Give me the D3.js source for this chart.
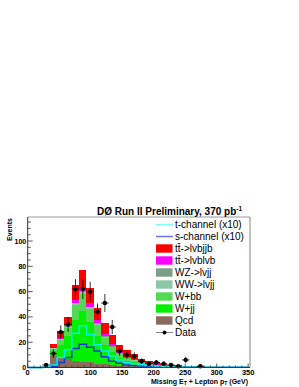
<!DOCTYPE html>
<html>
<head>
<meta charset="utf-8">
<script src="https://cdn.jsdelivr.net/npm/d3@7"></script>
<style>
  body { margin: 0; background: #fff; }
  svg { display: block; }
  text { font-family: "Liberation Sans", Arial, sans-serif; }
</style>
</head>
<body>
<div id="chart"></div>
<script>
// histogram: 30 bins from 0 to 350 GeV
let nBins = 30;
let xMax = 350;

// stacked backgrounds (events per bin)
let qcd  = [0,0,0.5,9,8,7,5.5,4.5,4,3,2.5,2,1.5,1.2,1,0.7,0.5,0.4,0.3,0.3,0.2,0.2,0.1,0.1,0.1,0,0,0,0,0];
let wjj  = [0,0.1,0.5,4,10,18,32,40,32,22,15,10,6,4,3,2,1.2,1,0.7,0.5,0.4,0.3,0.3,0.2,0.2,0.1,0.1,0.1,0.1,0.1];
let wbb  = [0,0,0.2,2,4,6.5,12,14,10.5,8.5,6,4,3,2,1.5,1,0.7,0.5,0.4,0.3,0.2,0.2,0.1,0.1,0.1,0.1,0.1,0.1,0,0];
let ww   = [0,0,0,0.3,0.6,0.8,1.2,1.3,1.2,1,0.8,0.6,0.4,0.3,0.3,0.2,0.2,0.1,0.1,0.1,0,0,0.1,0.1,0.05,0.05,0,0,0,0];
let wz   = [0,0,0,0.1,0.2,0.3,0.4,0.4,0.4,0.3,0.3,0.2,0.2,0.1,0.1,0.1,0.1,0,0,0,0,0,0,0,0,0,0,0,0,0];
let ttll = [0,0,0,0.2,0.4,1,2.5,3,3,2.5,1.8,1.5,1.2,1,0.8,0.6,0.5,0.4,0.3,0.2,0.2,0.1,0.1,0.1,0.05,0.05,0.05,0.05,0.05,0.05];
let ttlj = [0,0,0.3,3.0,5.8,6.4,11.4,13.8,11.9,9.7,8.6,7.7,5.7,5.4,4.3,2.4,1.8,1.6,1.2,0.8,0.6,0.4,0.4,0.3,0.15,0.15,0.1,0.1,0.1,0.1];

// signals (x10), drawn as outlines
let tchan = [0,0,0.3,2,8,14,27,33,26,18,13,9,6,4,3,2.2,1.6,1.2,0.9,0.7,0.5,0.4,0.3,0.3,0.2,0.2,0.1,0.1,0.1,0.1];
let schan = [0,0,0.2,1,4,8,15,18.3,16,13,8.5,5,3.3,2,1.5,1.1,0.8,0.6,0.5,0.4,0.3,0.3,0.2,0.2,0.1,0.1,0.1,0.1,0.1,0.1];

// data
let dataCounts = [0,0,2,11,28,34,62,62,60,44,51,32,13,10,9,5,3,4,3,2,1,6,0,1,0,0,0,0,0,0];

let xTicks = [0, 50, 100, 150, 200, 250, 300, 350];
let yTicks = [0, 20, 40, 60, 80, 100];

let stackKeys = ["qcd", "wjj", "wbb", "ww", "wz", "ttll", "ttlj"];
let colors = {
    qcd: "#8b6b5c", wjj: "#00f000", wbb: "#55d955", ww: "#8cc8a6",
    wz: "#7e9f87", ttll: "#ff00ff", ttlj: "#ff0000"
};

let svgWidth = 299;
let svgHeight = 387;

let svg = d3.select("#chart")
    .append("svg")
    .attr("width", svgWidth)
    .attr("height", svgHeight);

let x = d3.scaleLinear().domain([0, 352.9]).range([27.7, 250]);
let y = d3.scaleLinear().domain([0, 119]).range([367.5, 217]);

let binW = xMax / nBins;
let rows = d3.range(nBins).map(i => ({
    lo: i * binW, hi: (i + 1) * binW,
    qcd: qcd[i], wjj: wjj[i], wbb: wbb[i], ww: ww[i], wz: wz[i], ttll: ttll[i], ttlj: ttlj[i]
}));

let series = d3.stack().keys(stackKeys)(rows);

// stacked fills
svg.append("g")
    .selectAll("g")
    .data(series)
    .enter()
    .append("g")
    .attr("fill", d => colors[d.key])
    .selectAll("rect")
    .data(d => d)
    .enter()
    .append("rect")
    .attr("shape-rendering", "crispEdges")
    .attr("x", d => x(d.data.lo))
    .attr("width", d => x(d.data.hi) - x(d.data.lo))
    .attr("y", d => y(d[1]))
    .attr("height", d => Math.max(0, y(d[0]) - y(d[1])));

// signal outlines
let stepLine = d3.line()
    .x(d => x(d[0]))
    .y(d => y(d[1]))
    .curve(d3.curveStepAfter);

function stepPoints(vals) {
    let pts = vals.map((v, i) => [i * binW, v]);
    pts.push([xMax, vals[vals.length - 1]]);
    return pts;
}

svg.append("path")
    .attr("d", stepLine(stepPoints(schan)))
    .attr("fill", "none")
    .attr("stroke", "#1f35d6")
    .attr("stroke-width", 1.5);

svg.append("path")
    .attr("d", stepLine(stepPoints(tchan)))
    .attr("fill", "none")
    .attr("stroke", "#00f0f0")
    .attr("stroke-width", 1.5);

// data points with errors
let pts = dataCounts.map((v, i) => ({ c: (i + 0.5) * binW, lo: i * binW, hi: (i + 1) * binW, v: v }))
    .filter(d => d.v > 0);

let dg = svg.append("g");
dg.selectAll(".ev")
    .data(pts)
    .enter()
    .append("line")
    .attr("x1", d => x(d.c)).attr("x2", d => x(d.c))
    .attr("y1", d => y(d.v + Math.sqrt(d.v)))
    .attr("y2", d => y(Math.max(0, d.v - Math.sqrt(d.v))))
    .attr("stroke", "#000").attr("stroke-width", 0.8);
dg.selectAll(".eh")
    .data(pts)
    .enter()
    .append("line")
    .attr("x1", d => x(d.lo)).attr("x2", d => x(d.hi))
    .attr("y1", d => y(d.v)).attr("y2", d => y(d.v))
    .attr("stroke", "#000").attr("stroke-width", 0.8);
dg.selectAll("circle")
    .data(pts)
    .enter()
    .append("circle")
    .attr("cx", d => x(d.c))
    .attr("cy", d => y(d.v))
    .attr("r", 2.2)
    .attr("fill", "#000");

// frame
svg.append("line").attr("x1", x(0)).attr("x2", 250).attr("y1", 217).attr("y2", 217)
    .attr("stroke", "#9a9a9a").attr("stroke-width", 1.2);
svg.append("line").attr("x1", 250).attr("x2", 250).attr("y1", 217).attr("y2", y(0))
    .attr("stroke", "#9a9a9a").attr("stroke-width", 1.2);

// y axis
let yAxis = svg.append("g").attr("transform", `translate(${x(0)},0)`);
yAxis.append("line").attr("y1", 217).attr("y2", y(0)).attr("stroke", "#333");
yAxis.selectAll(".ymin")
    .data(d3.range(0, 119, 5))
    .enter()
    .append("line")
    .attr("x1", 0).attr("x2", d => d % 20 === 0 ? 5 : 3)
    .attr("y1", d => y(d)).attr("y2", d => y(d))
    .attr("stroke", "#333").attr("stroke-width", 0.8);
yAxis.selectAll("text")
    .data(yTicks)
    .enter()
    .append("text")
    .attr("x", -1.5)
    .attr("y", d => y(d) + 2.5)
    .attr("text-anchor", "end")
    .attr("font-size", "7px")
    .attr("font-weight", "bold")
    .text(d => d);

// x axis
let xAxis = svg.append("g");
xAxis.append("line").attr("x1", x(0)).attr("x2", 250).attr("y1", y(0)).attr("y2", y(0)).attr("stroke", "#333");
xAxis.selectAll(".xmin")
    .data(d3.range(0, 351, 10))
    .enter()
    .append("line")
    .attr("x1", d => x(d)).attr("x2", d => x(d))
    .attr("y1", y(0)).attr("y2", d => y(0) - (d % 50 === 0 ? 4 : 2))
    .attr("stroke", "#333").attr("stroke-width", 0.8);
xAxis.selectAll("text")
    .data(xTicks)
    .enter()
    .append("text")
    .attr("x", d => x(d))
    .attr("y", 375)
    .attr("text-anchor", "middle")
    .attr("font-size", "7.5px")
    .attr("font-weight", "bold")
    .text(d => d);

// axis titles
svg.append("text")
    .attr("transform", "translate(12,218) rotate(-90)")
    .attr("text-anchor", "end")
    .attr("font-size", "7px")
    .attr("font-weight", "bold")
    .text("Events");

let xt = svg.append("text")
    .attr("x", 248).attr("y", 383.5)
    .attr("text-anchor", "end")
    .attr("font-size", "7px")
    .attr("font-weight", "bold");
xt.append("tspan").text("Missing E");
xt.append("tspan").attr("font-size", "5px").attr("dy", 1.5).text("T");
xt.append("tspan").attr("dy", -1.5).text(" + Lepton p");
xt.append("tspan").attr("font-size", "5px").attr("dy", 1.5).text("T");
xt.append("tspan").attr("dy", -1.5).text(" (GeV)");

// title
let title = svg.append("text")
    .attr("x", 97).attr("y", 215)
    .attr("font-size", "10px")
    .attr("font-weight", "bold");
title.append("tspan").text("DØ Run II Preliminary, 370 pb");
title.append("tspan").attr("font-size", "6.5px").attr("dy", -4).text("-1");

// legend
let legendItems = [
    { label: "t-channel (x10)", type: "line", color: "#80ffff" },
    { label: "s-channel (x10)", type: "line", color: "#7070ff" },
    { label: "tt\u0304->lvbjjb", type: "box", color: colors.ttlj },
    { label: "tt\u0304->lvblvb", type: "box", color: colors.ttll },
    { label: "WZ->lvjj", type: "box", color: colors.wz },
    { label: "WW->lvjj", type: "box", color: colors.ww },
    { label: "W+bb", type: "box", color: colors.wbb },
    { label: "W+jj", type: "box", color: colors.wjj },
    { label: "Qcd", type: "box", color: colors.qcd },
    { label: "Data", type: "data", color: "#000" }
];

let legend = svg.append("g");
let leg = legend.selectAll("g")
    .data(legendItems)
    .enter()
    .append("g")
    .attr("transform", (d, i) => `translate(156,${224.5 + i * 12})`);

leg.filter(d => d.type === "line")
    .append("line")
    .attr("x1", 0).attr("x2", 17).attr("y1", 0).attr("y2", 0)
    .attr("stroke", d => d.color).attr("stroke-width", 1.5);

leg.filter(d => d.type === "box")
    .append("rect")
    .attr("x", 0).attr("y", -4.2).attr("width", 16.5).attr("height", 8.4)
    .attr("fill", d => d.color);

let dl = leg.filter(d => d.type === "data");
dl.append("line")
    .attr("x1", 0).attr("x2", 17).attr("y1", 0).attr("y2", 0)
    .attr("stroke", "#888").attr("stroke-width", 1);
dl.append("circle").attr("cx", 8.5).attr("cy", 0).attr("r", 2).attr("fill", "#000");

leg.append("text")
    .attr("x", 19).attr("y", 3.6)
    .attr("font-size", "10px")
    .text(d => d.label);
</script>
</body>
</html>
